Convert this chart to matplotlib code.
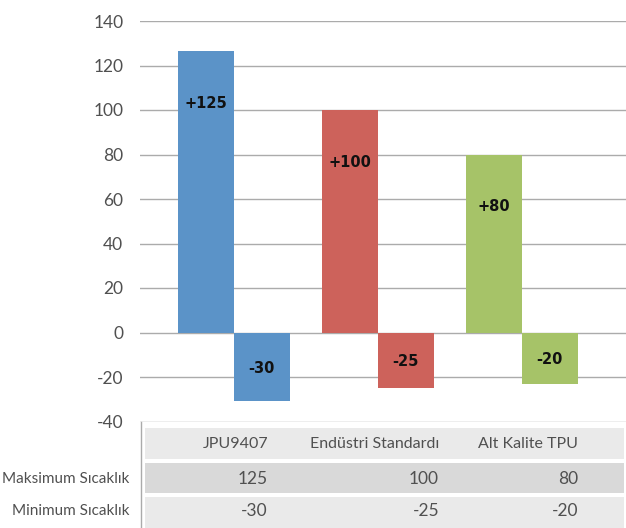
import matplotlib
matplotlib.use("Agg")
import matplotlib.pyplot as plt
import numpy as np
from matplotlib.patches import Rectangle

# chart data
categories = ["JPU9407", "Endüstri Standardı", "Alt Kalite TPU"]
row_names = ["Maksimum Sıcaklık", "Minimum Sıcaklık"]
max_values = [125, 100, 80]
min_values = [-30, -25, -20]
# bar heights as drawn in the picture
max_bars = [126.5, 100, 80]
min_bars = [-31, -25, -23]
max_labels = ["+125", "+100", "+80"]
min_labels = ["-30", "-25", "-20"]
colors = ["#5B93C8", "#CD625B", "#A6C368"]
yticks = [-40, -20, 0, 20, 40, 60, 80, 100, 120, 140]

W, H = 626, 528
TXT = "#505050"
GRID = "#ABABAB"
FONT = ["Lato", "DejaVu Sans"]
WT = "normal"

fig = plt.figure(figsize=(W / 100, H / 100), dpi=100)

# pixel-space layer for the data table
tab = fig.add_axes([0, 0, 1, 1], zorder=0)
tab.set_xlim(0, W)
tab.set_ylim(H, 0)
tab.axis("off")

ax = fig.add_axes([140 / W, (H - 421.5) / H, (W - 140) / W, 400.5 / H], zorder=1)
ax.set_facecolor("none")

x = np.arange(len(categories))
bw = 56 / 144
ax.bar(x - bw / 2, max_bars, width=bw, color=colors, zorder=2)
ax.bar(x + bw / 2, min_bars, width=bw, color=colors, zorder=2)

for i in range(len(categories)):
    ax.text(x[i] - bw / 2, max_bars[i] - 23.5, max_labels[i], ha="center",
            va="center", fontsize=10.5, fontweight="bold", color="#111111",
            family="DejaVu Sans", zorder=3)
    ax.text(x[i] + bw / 2, min_bars[i] / 2 - 0.5, min_labels[i], ha="center",
            va="center", fontsize=10.5, fontweight="bold", color="#111111",
            family="DejaVu Sans", zorder=3)

ax.set_xlim(-93.75 / 144, 392.25 / 144)
ax.set_ylim(-40, 140)
ax.set_yticks(yticks)
ax.set_yticklabels([str(v) for v in yticks], family=FONT, fontweight=WT,
                   fontsize=12.5, color=TXT)
ax.tick_params(axis="y", length=0, pad=12)
ax.set_xticks([])
ax.grid(axis="y", color=GRID, lw=1.0, zorder=0)
for s in ax.spines.values():
    s.set_visible(False)

# data table below the plot
tab.plot([140.5, 140.5], [421.5, H], color=GRID, lw=1.0)
bands = [(428, 459, "#EAEAEA"), (463, 493, "#D9D9D9"), (497, H, "#EAEAEA")]
for y0, y1, c in bands:
    tab.add_patch(Rectangle((145, y0), 624 - 145, y1 - y0, color=c, lw=0))

col_right = [268, 439, 578]
for i, name in enumerate(categories):
    tab.text(col_right[i], 444, name, ha="right", va="center", fontsize=11.5,
             family=FONT, fontweight=WT, color=TXT)
    tab.text(col_right[i], 478.5, str(max_values[i]), ha="right", va="center",
             fontsize=12.5, family=FONT, fontweight=WT, color=TXT)
    tab.text(col_right[i], 511, str(min_values[i]), ha="right", va="center",
             fontsize=12.5, family=FONT, fontweight=WT, color=TXT)

row_y = [479, 511]
for name, yy in zip(row_names, row_y):
    tab.text(129, yy, name, ha="right", va="center", fontsize=11,
             family=FONT, fontweight=WT, color=TXT)

fig.savefig("out.png", dpi=100)
